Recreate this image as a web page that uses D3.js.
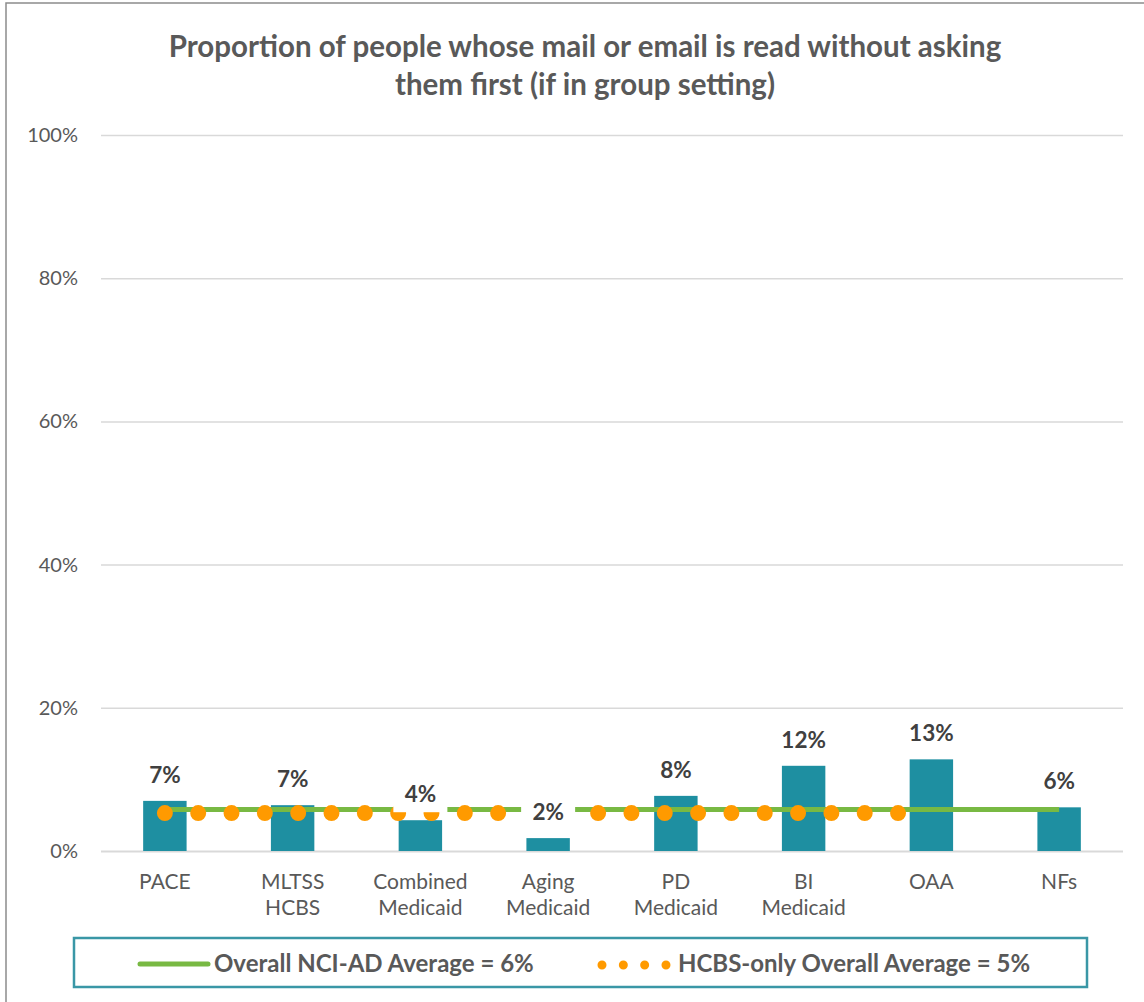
<!DOCTYPE html>
<html><head><meta charset="utf-8">
<script src="https://cdn.jsdelivr.net/npm/d3@7"></script>
<style>body{margin:0;background:#fff;} text{font-family:Lato,"Open Sans",sans-serif;}</style>
</head><body><svg id="chart" width="1144" height="1002"></svg>
<script>
const categories = ["PACE", "MLTSS\nHCBS", "Combined\nMedicaid", "Aging\nMedicaid", "PD\nMedicaid", "BI\nMedicaid", "OAA", "NFs"];
const values = [7.0, 6.4, 4.3, 1.8, 7.7, 11.9, 12.8, 6.1];
const valueLabels = ["7%", "7%", "4%", "2%", "8%", "12%", "13%", "6%"];
const overallAvg = 5.8;          // Overall NCI-AD Average (all groups)
const hcbsAvg = 5.3;             // HCBS-only Overall Average (all but NFs)
const hcbsCategories = categories.slice(0, 7);
const yTicks = [0, 20, 40, 60, 80, 100];
const titleLines = ["Proportion of people whose mail or email is read without asking", "them first (if in group setting)"];
const legendItems = ["Overall NCI-AD Average = 6%", "HCBS-only Overall Average = 5%"];

const grey = "#595959", teal = "#1E8FA1", green = "#78B943", orange = "#FF9A00";
const svg = d3.select("#chart");

// outer chart border (left/top visible)
svg.append("rect").attr("x", 6).attr("y", 3).attr("width", 1300).attr("height", 1200)
  .attr("fill", "none").attr("stroke", "#8c8c8c").attr("stroke-width", 1.5);

const x = d3.scaleBand().domain(categories).range([101, 1123]).paddingInner(0.66).paddingOuter(0.33);
const y = d3.scaleLinear().domain([0, 100]).range([851, 135]);
const cx = c => x(c) + x.bandwidth() / 2;

// title
svg.append("g").selectAll("text").data(titleLines).join("text")
  .attr("x", 585).attr("y", (d, i) => 47 + i * 38).attr("dy", "0.35em")
  .attr("text-anchor", "middle").attr("font-size", 29.5).attr("font-weight", "bold")
  .attr("fill", grey).text(d => d);

// gridlines + y axis labels
const yAxis = d3.axisLeft(y).tickValues(yTicks).tickSize(-(1123 - 101)).tickFormat(d => d + "%").tickPadding(23);
const gy = svg.append("g").attr("transform", "translate(101,0)").call(yAxis);
gy.select(".domain").remove();
gy.selectAll(".tick line").attr("stroke", "#D9D9D9").attr("stroke-width", d => d === 0 ? 2 : 1.5);
gy.selectAll(".tick text").attr("fill", grey).attr("font-size", 20).style("font-family", "Lato, 'Open Sans', sans-serif");

// bars
svg.append("g").selectAll("rect").data(values).join("rect")
  .attr("x", (d, i) => x(categories[i])).attr("width", x.bandwidth())
  .attr("y", d => y(d)).attr("height", d => y(0) - y(d)).attr("fill", teal);

// x labels
const xl = svg.append("g").selectAll("text").data(categories).join("text")
  .attr("text-anchor", "middle").attr("font-size", 21).attr("fill", grey);
xl.each(function(d) {
  const t = d3.select(this);
  d.split("\n").forEach((line, i) => {
    t.append("tspan").attr("x", cx(d)).attr("y", 882 + i * 26).attr("dy", "0.35em").text(line);
  });
});

// overall average line
svg.append("path").datum(categories)
  .attr("d", d3.line().x(d => cx(d)).y(() => y(overallAvg)))
  .attr("fill", "none").attr("stroke", green).attr("stroke-width", 5);

// HCBS-only dotted line
const hcbsPath = svg.append("path").datum(hcbsCategories)
  .attr("d", d3.line().x(d => cx(d)).y(() => y(hcbsAvg)))
  .attr("fill", "none").attr("stroke", orange).attr("stroke-width", 16)
  .attr("stroke-linecap", "round");
const len = hcbsPath.node().getTotalLength();
hcbsPath.attr("stroke-dasharray", `0 ${len / 23}`);

// value labels with white backgrounds
const lg = svg.append("g").selectAll("g").data(values).join("g")
  .attr("transform", (d, i) => `translate(${cx(categories[i])},${y(d) - 26})`);
lg.append("rect").attr("x", -27).attr("y", -18).attr("width", 54).attr("height", 36).attr("fill", "#fff");
lg.append("text").attr("text-anchor", "middle").attr("dy", "0.35em")
  .attr("font-size", 22.5).attr("font-weight", "bold").attr("fill", "#404040")
  .text((d, i) => valueLabels[i]);

// legend
const leg = svg.append("g");
leg.append("rect").attr("x", 74).attr("y", 938).attr("width", 1013).attr("height", 49)
  .attr("fill", "#fff").attr("stroke", "#3A97A6").attr("stroke-width", 2.5);
leg.append("line").attr("x1", 140).attr("x2", 208).attr("y1", 964).attr("y2", 964)
  .attr("stroke", green).attr("stroke-width", 5).attr("stroke-linecap", "round");
leg.append("text").attr("x", 214).attr("y", 964).attr("dy", "0.35em")
  .attr("font-size", 24).attr("font-weight", "bold").attr("fill", grey).text(legendItems[0]);
leg.append("line").attr("x1", 602).attr("x2", 666).attr("y1", 965).attr("y2", 965)
  .attr("stroke", orange).attr("stroke-width", 9).attr("stroke-linecap", "round")
  .attr("stroke-dasharray", "0 21.33");
leg.append("text").attr("x", 678).attr("y", 964).attr("dy", "0.35em")
  .attr("font-size", 24).attr("font-weight", "bold").attr("fill", grey).text(legendItems[1]);
</script></body></html>
